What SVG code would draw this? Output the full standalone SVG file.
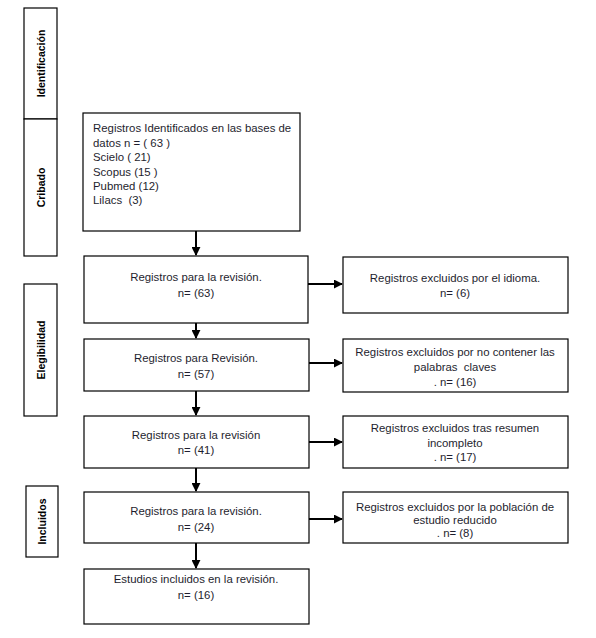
<svg xmlns="http://www.w3.org/2000/svg" width="596" height="638" viewBox="0 0 596 638">
<style>
.box{fill:#fff;stroke:#000;stroke-width:1.2}
.side{fill:#fff;stroke:#000;stroke-width:1.2}
.t{font-family:"Liberation Sans",Arial,sans-serif;font-size:11.4px;fill:#1e1e2e}
.c{text-anchor:middle}
.s{font-family:"Liberation Sans",Arial,sans-serif;font-size:10.5px;font-weight:bold;fill:#000;text-anchor:middle}
.ln{stroke:#000;stroke-width:2;fill:none}
</style>
<defs>
<marker id="ah" viewBox="0 0 10 10" refX="9" refY="5" markerWidth="4.5" markerHeight="4.5" orient="auto" markerUnits="strokeWidth">
<path d="M0,0 L10,5 L0,10 z" fill="#000"/>
</marker>
</defs>
<rect width="596" height="638" fill="#fff"/>
<g id="side-identificacion">
<rect class="side" x="24" y="8" width="33" height="111"/>
<text class="s" transform="translate(44.5,63.5) rotate(-90)">Identificación</text>
</g>
<g id="side-cribado">
<rect class="side" x="24" y="119" width="33" height="137"/>
<text class="s" transform="translate(44.5,187.5) rotate(-90)">Cribado</text>
</g>
<g id="side-elegibilidad">
<rect class="side" x="24" y="284" width="33" height="132"/>
<text class="s" transform="translate(44.5,350) rotate(-90)">Elegibilidad</text>
</g>
<g id="side-incluidos">
<rect class="side" x="26" y="486" width="32" height="71"/>
<text class="s" transform="translate(45.5,521.5) rotate(-90)">Incluidos</text>
</g>
<g id="n1">
<rect class="box" x="83" y="113" width="217" height="118"/>
<text class="t" x="93" y="132">Registros Identificados en las bases de</text>
<text class="t" x="93" y="147">datos n = ( 63 )</text>
<text class="t" x="93" y="161">Scielo ( 21)</text>
<text class="t" x="93" y="176">Scopus (15 )</text>
<text class="t" x="93" y="190">Pubmed (12)</text>
<text class="t" x="93" y="204" xml:space="preserve">Lilacs  (3)</text>
</g>
<g id="n2">
<rect class="box" x="84" y="256" width="224" height="67"/>
<text class="t c" x="196" y="281">Registros para la revisión.</text>
<text class="t c" x="196" y="297">n= (63)</text>
</g>
<g id="n3">
<rect class="box" x="84" y="339" width="225" height="52"/>
<text class="t c" x="196" y="362">Registros para Revisión.</text>
<text class="t c" x="196" y="378">n= (57)</text>
</g>
<g id="n4">
<rect class="box" x="84" y="416" width="225" height="52"/>
<text class="t c" x="196" y="439">Registros para la revisión</text>
<text class="t c" x="196" y="454">n= (41)</text>
</g>
<g id="n5">
<rect class="box" x="84" y="492" width="225" height="51"/>
<text class="t c" x="196" y="515">Registros para la revisión.</text>
<text class="t c" x="196" y="531">n= (24)</text>
</g>
<g id="n6">
<rect class="box" x="84" y="569" width="225" height="55"/>
<text class="t c" x="196" y="583">Estudios incluidos en la revisión.</text>
<text class="t c" x="196" y="599">n= (16)</text>
</g>
<g id="r1">
<rect class="box" x="343" y="257" width="225" height="56"/>
<text class="t c" x="455" y="282">Registros excluidos por el idioma.</text>
<text class="t c" x="455" y="297">n= (6)</text>
</g>
<g id="r2">
<rect class="box" x="343" y="339" width="225" height="53"/>
<text class="t c" x="455" y="356">Registros excluidos por no contener las</text>
<text class="t c" x="455" y="371" xml:space="preserve">palabras  claves</text>
<text class="t c" x="455" y="386">. n= (16)</text>
</g>
<g id="r3">
<rect class="box" x="343" y="416" width="225" height="52"/>
<text class="t c" x="455" y="432">Registros excluidos tras resumen</text>
<text class="t c" x="455" y="447">incompleto</text>
<text class="t c" x="455" y="461">. n= (17)</text>
</g>
<g id="r4">
<rect class="box" x="343" y="492" width="225" height="51"/>
<text class="t c" x="455" y="511">Registros excluidos por la población de</text>
<text class="t c" x="455" y="524">estudio reducido</text>
<text class="t c" x="455" y="537">. n= (8)</text>
</g>
<g id="connectors">
<line class="ln" x1="196" y1="231" x2="196" y2="255" marker-end="url(#ah)"/>
<line class="ln" x1="196" y1="323" x2="196" y2="338" marker-end="url(#ah)"/>
<line class="ln" x1="196" y1="391" x2="196" y2="415" marker-end="url(#ah)"/>
<line class="ln" x1="196" y1="468" x2="196" y2="491" marker-end="url(#ah)"/>
<line class="ln" x1="196" y1="543" x2="196" y2="568" marker-end="url(#ah)"/>
<line class="ln" x1="308" y1="284" x2="342" y2="284" marker-end="url(#ah)"/>
<line class="ln" x1="309" y1="363" x2="342" y2="363" marker-end="url(#ah)"/>
<line class="ln" x1="309" y1="442" x2="342" y2="442" marker-end="url(#ah)"/>
<line class="ln" x1="309" y1="519" x2="342" y2="519" marker-end="url(#ah)"/>
</g>
</svg>
